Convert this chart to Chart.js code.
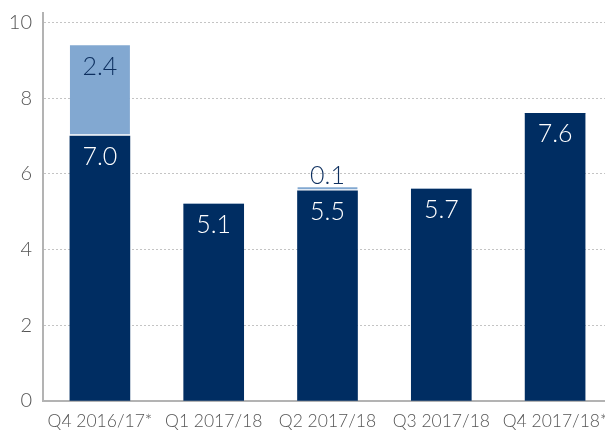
<!DOCTYPE html>
<html>
<head>
<meta charset="utf-8">
<script src="https://cdn.jsdelivr.net/npm/chart.js@4"></script>
<style>
html,body{margin:0;padding:0;background:#fff;overflow:hidden;}
#wrap{width:612px;height:432px;}
</style>
</head>
<body>
<div id="wrap"><canvas id="c" width="612" height="432"></canvas></div>
<script>
const categories = ['Q4 2016/17*', 'Q1 2017/18', 'Q2 2017/18', 'Q3 2017/18', 'Q4 2017/18*'];
const baseValues = [7.0, 5.2, 5.55, 5.6, 7.6];
const topValues = [2.4, 0, 0.1, 0, 0];
const baseLabels = ['7.0', '5.1', '5.5', '5.7', '7.6'];
const topLabels = ['2.4', '', '0.1', '', ''];
const yTicks = [0, 2, 4, 6, 8, 10];

const NAVY = '#002d62';
const LIGHT = '#82a8d1';
const FONT = "'Lato', 'Open Sans', sans-serif";

const labelPlugin = {
  id: 'barLabels',
  afterDatasetsDraw(chart) {
    const ctx = chart.ctx;
    ctx.save();
    ctx.textAlign = 'center';
    ctx.textBaseline = 'middle';
    ctx.font = '300 25px ' + FONT;
    const m0 = chart.getDatasetMeta(0);
    const m1 = chart.getDatasetMeta(1);
    m0.data.forEach((el, i) => {
      ctx.fillStyle = '#ffffff';
      ctx.fillText(baseLabels[i], el.x, el.y + 21);
    });
    m1.data.forEach((el, i) => {
      if (!topLabels[i]) return;
      ctx.fillStyle = '#0d2f5f';
      const h = el.base - el.y;
      if (h > 30) {
        ctx.fillText(topLabels[i], el.x, el.y + 22);
      } else {
        ctx.fillText(topLabels[i], el.x, el.y - 11);
      }
    });
    ctx.restore();
  }
};

new Chart(document.getElementById('c'), {
  type: 'bar',
  data: {
    labels: categories,
    datasets: [
      {
        data: baseValues,
        backgroundColor: NAVY,
        borderWidth: 0,
        barThickness: 60
      },
      {
        data: topValues,
        backgroundColor: LIGHT,
        borderColor: '#ffffff',
        borderWidth: {top: 0, left: 0, right: 0, bottom: 2},
        borderSkipped: false,
        barThickness: 60
      }
    ]
  },
  options: {
    responsive: false,
    animation: false,
    devicePixelRatio: 1,
    layout: {padding: {top: 13, right: 0, left: 0, bottom: 0}},
    plugins: {legend: {display: false}, tooltip: {enabled: false}},
    scales: {
      x: {
        stacked: true,
        offset: true,
        grid: {display: false, drawTicks: false},
        border: {display: true, color: '#b3b3b3', width: 2},
        ticks: {
          color: '#555555',
          font: {family: FONT, size: 17.5, weight: '300'},
          padding: 10,
          maxRotation: 0,
          autoSkip: false
        },
        afterFit(scale) { scale.height = 31; scale.paddingLeft = 0; scale.paddingRight = 0; }
      },
      y: {
        stacked: true,
        min: 0,
        max: 10.25,
        afterBuildTicks(scale) {
          scale.ticks = yTicks.map(v => ({value: v}));
        },
        grid: {color: '#c4c4c4', lineWidth: 1, drawTicks: false},
        border: {display: true, color: '#b3b3b3', width: 2, dash: [2, 2]},
        ticks: {
          color: '#555555',
          font: {family: FONT, size: 20, weight: '300'},
          padding: 11
        },
        afterFit(scale) { scale.width = 43; scale.paddingTop = 0; scale.paddingBottom = 0; }
      }
    }
  },
  plugins: [labelPlugin]
});
</script>
</body>
</html>
